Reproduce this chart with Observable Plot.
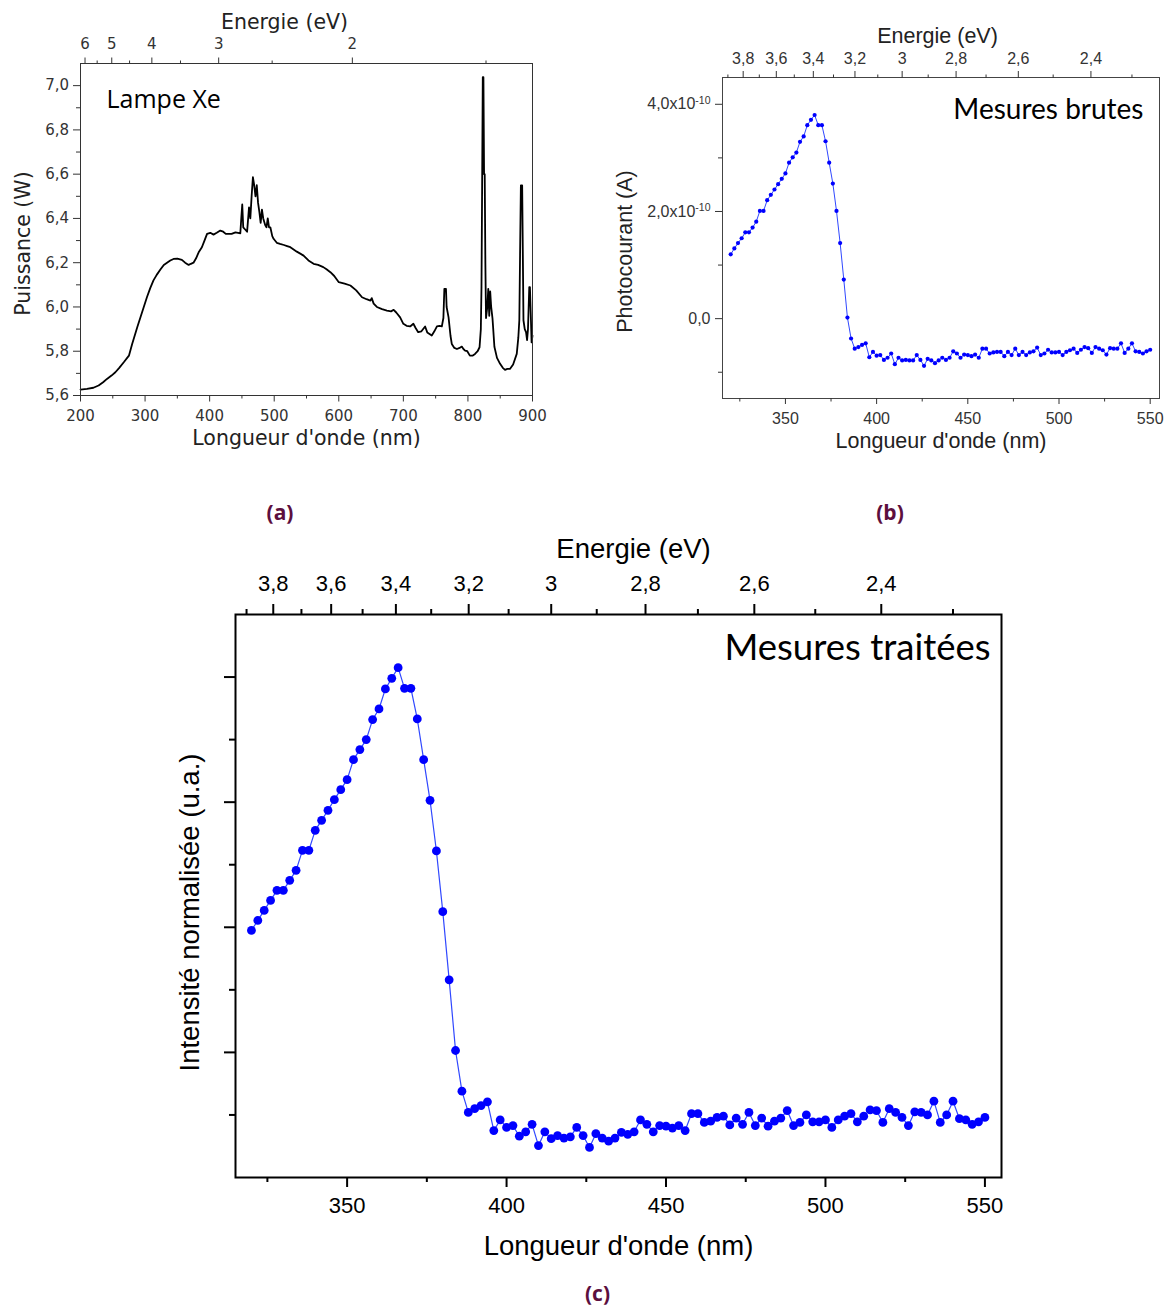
<!DOCTYPE html>
<html><head><meta charset="utf-8">
<script src="https://cdn.jsdelivr.net/npm/d3@7"></script>
<script src="https://cdn.jsdelivr.net/npm/@observablehq/plot@0.6"></script>
<style>
html,body{margin:0;padding:0;background:#fff;}
#fig{position:relative;width:1169px;height:1308px;overflow:hidden;background:#fff;}
#fig svg{position:absolute;overflow:visible;}
.tag{position:absolute;transform:translate(-50%,-50%);font-family:"Open Sans",sans-serif;font-weight:700;font-size:21px;color:#5c0f3e;line-height:1.1;white-space:nowrap;}
</style></head><body><div id="fig"></div>
<script>
const HC = 1242; // eV·nm conversion used for the top energy axes

// ---------- Panel (a): Xe lamp spectrum ----------
const lampWavelength = [200,210,220,228,235,241,248,254,260,267,275,280,288,293,298,303,308,313,318,324,329,334,339,344,350,357,362,367.5,371,375,379,383,388,392,396,401,406,411,416.5,421,425,429,434,440,444,447.5,449,450.5,452,455,458,461,463,465,467,469,471,473,475,477,479,481,483,486,488,490,492,494,497,499,504,509,515,520,525,535,545.5,553,561,568,576,581,587,593,600,609,618,627,636,643,649,651,654,659,667,674.5,681,685,689,695,700,705,710.5,715.5,719,723,728,733.7,737,744,748,752,756,759.6,762,763.5,766,767,770,773,775,779,783,787,790.5,793,795.6,799,803,807,811,815,818,820,821,822,823,824,825,826,827,828,830,831.5,833,834.5,836,838,839,841,845,849.8,854,857.5,861,865,870,875.6,878,879.6,881,882,884,885,886,888,890,891.6,893,895,896,897.5,898.6,900];
const lampPower = [5.627,5.63,5.635,5.645,5.66,5.675,5.69,5.705,5.725,5.75,5.78,5.833,5.91,5.955,6.0,6.045,6.085,6.12,6.145,6.17,6.19,6.20,6.21,6.217,6.218,6.213,6.20,6.19,6.195,6.20,6.22,6.247,6.27,6.30,6.33,6.335,6.327,6.335,6.345,6.34,6.33,6.33,6.33,6.337,6.335,6.333,6.40,6.463,6.36,6.35,6.34,6.45,6.40,6.50,6.586,6.55,6.50,6.55,6.47,6.43,6.38,6.44,6.40,6.37,6.36,6.40,6.36,6.36,6.32,6.308,6.29,6.285,6.28,6.275,6.27,6.25,6.232,6.21,6.195,6.19,6.18,6.17,6.157,6.14,6.112,6.105,6.097,6.075,6.044,6.035,6.029,6.04,6.015,6.0,5.99,5.984,5.98,5.987,5.975,5.953,5.924,5.915,5.912,5.924,5.905,5.886,5.89,5.912,5.885,5.871,5.89,5.912,5.915,5.912,5.95,6.082,6.082,6.0,5.953,5.87,5.833,5.815,5.81,5.815,5.821,5.81,5.803,5.80,5.78,5.78,5.788,5.80,5.818,5.9,6.09,6.55,7.038,7.038,6.6,6.6,6.2,5.95,6.0,6.082,5.96,6.07,6.0,5.95,5.908,5.82,5.77,5.743,5.725,5.716,5.72,5.72,5.74,5.788,5.86,5.94,6.3,6.549,6.549,6.25,5.94,5.90,5.886,5.85,5.90,6.09,6.09,5.95,5.84,5.87];
const aXMajor = [200,300,400,500,600,700,800,900];
const aXMinor = [250,350,450,550,650,750,850];
const aYMajor = [5.6,5.8,6.0,6.2,6.4,6.6,6.8,7.0];
const aYMinor = [5.7,5.9,6.1,6.3,6.5,6.7,6.9];
const aEMajor = [6,5,4,3,2];
const aEMinor = [5.5,4.5,3.5,2.5,1.5];

// ---------- Panels (b) and (c): photocurrent ----------
const wavelengths = [320,322,324,326,328,330,332,334,336,338,340,342,344,346,348,350,352,354,356,358,360,362,364,366,368,370,372,374,376,378,380,382,384,386,388,390,392,394,396,398,400,402,404,406,408,410,412,414,416,418,420,422,424,426,428,430,432,434,436,438,440,442,444,446,448,450,452,454,456,458,460,462,464,466,468,470,472,474,476,478,480,482,484,486,488,490,492,494,496,498,500,502,504,506,508,510,512,514,516,518,520,522,524,526,528,530,532,534,536,538,540,542,544,546,548,550];
// raw photocurrent, in units of 1e-10 A
const rawCurrent = [1.20,1.31,1.41,1.50,1.61,1.61,1.70,1.81,2.01,2.01,2.21,2.31,2.41,2.51,2.61,2.71,2.91,3.01,3.10,3.30,3.40,3.61,3.71,3.80,3.61,3.61,3.31,2.91,2.52,2.01,1.41,0.73,0.02,-0.37,-0.56,-0.53,-0.49,-0.46,-0.72,-0.62,-0.69,-0.68,-0.77,-0.73,-0.65,-0.85,-0.73,-0.78,-0.77,-0.78,-0.78,-0.68,-0.77,-0.88,-0.75,-0.78,-0.83,-0.78,-0.73,-0.77,-0.73,-0.61,-0.65,-0.73,-0.67,-0.68,-0.70,-0.67,-0.73,-0.56,-0.56,-0.65,-0.63,-0.62,-0.62,-0.70,-0.62,-0.68,-0.56,-0.68,-0.62,-0.68,-0.63,-0.61,-0.54,-0.68,-0.65,-0.58,-0.63,-0.63,-0.62,-0.68,-0.62,-0.59,-0.56,-0.64,-0.58,-0.53,-0.55,-0.64,-0.53,-0.56,-0.59,-0.67,-0.55,-0.56,-0.56,-0.46,-0.64,-0.56,-0.46,-0.61,-0.62,-0.65,-0.61,-0.58];
// treated / normalised intensity (arbitrary units)
const treatedIntensity = [3.95,4.11,4.27,4.43,4.59,4.59,4.75,4.91,5.23,5.23,5.55,5.71,5.87,6.04,6.20,6.36,6.68,6.84,7.00,7.32,7.49,7.81,7.98,8.15,7.82,7.82,7.33,6.68,6.03,5.22,4.25,3.16,2.03,1.38,1.04,1.10,1.15,1.21,0.75,0.92,0.80,0.83,0.66,0.73,0.85,0.51,0.73,0.62,0.67,0.63,0.65,0.80,0.67,0.48,0.70,0.63,0.58,0.63,0.72,0.69,0.73,0.92,0.85,0.73,0.83,0.82,0.79,0.83,0.75,1.02,1.02,0.88,0.90,0.96,0.98,0.84,0.95,0.85,1.04,0.83,0.95,0.82,0.90,0.95,1.07,0.83,0.88,1.00,0.89,0.89,0.92,0.80,0.92,0.98,1.02,0.89,0.98,1.08,1.07,0.88,1.10,1.04,0.96,0.83,1.05,1.04,1.00,1.22,0.88,1.00,1.22,0.94,0.92,0.85,0.89,0.96];
const bcXMajor = [350,400,450,500,550];
const bcXMinor = [325,375,425,475,525];
const bcEMajor = [3.8,3.6,3.4,3.2,3.0,2.8,2.6,2.4];
const bcEMinor = [3.9,3.7,3.5,3.3,3.1,2.9,2.7,2.5,2.3];
const bYMajor = [0, 2e-10, 4e-10];
const bYMinor = [-1e-10, 1e-10, 3e-10];
const cYMajor = [2,4,6,8];
const cYMinor = [1,3,5,7];

// ---------- helpers ----------
const comma = (v, d) => v.toFixed(d).replace(".", ",");
const eLabel = w => { const e = Math.round(HC / w * 10) / 10; return Number.isInteger(e) ? String(e) : comma(e, 1); };
const blank = () => "";
const toWl = es => es.map(e => HC / e);
const label = (t, o) => Plot.text([t], {text: d => d, lineAnchor: "middle", textAnchor: "middle", ...o});

const fig = document.getElementById("fig");
function place(svg, left, top) { svg.style.left = left + "px"; svg.style.top = top + "px"; fig.appendChild(svg); }

// ---------- (a) ----------
const lampData = lampWavelength.map((w, i) => ({w, p: lampPower[i]}));
const A = Plot.plot({
  width: 560, height: 460, marginLeft: 80, marginRight: 28, marginTop: 63, marginBottom: 65,
  style: {fontFamily: "DejaVu Sans, sans-serif", fontSize: "15px", color: "#333", background: "none"},
  x: {domain: [200, 900], label: null},
  y: {domain: [5.6, 7.1], label: null},
  marks: [
    Plot.line(lampData, {x: "w", y: "p", stroke: "#000", strokeWidth: 1.8}),
    Plot.frame({stroke: "#333", strokeWidth: 1}),
    Plot.axisX(aXMajor, {anchor: "bottom", tickSize: 6.5, tickPadding: 8.5, tickFormat: d => String(d), label: null}),
    Plot.axisX(aXMinor, {anchor: "bottom", tickSize: 3.5, tickFormat: blank, label: null}),
    Plot.axisY(aYMajor, {anchor: "left", tickSize: 7, tickPadding: 4.5, tickFormat: d => comma(d, 1), label: null}),
    Plot.axisY(aYMinor, {anchor: "left", tickSize: 4, tickFormat: blank, label: null}),
    Plot.axisX(toWl(aEMajor), {anchor: "top", tickSize: 6.5, tickPadding: 8, tickFormat: eLabel, label: null}),
    Plot.axisX(toWl(aEMinor), {anchor: "top", tickSize: 3.5, tickFormat: blank, label: null}),
    label("Energie (eV)", {frameAnchor: "top", dx: -22, dy: -41, fontSize: 20.5, fill: "#222"}),
    label("Longueur d'onde (nm)", {frameAnchor: "bottom", dy: 43, fontSize: 20.5, fill: "#222"}),
    label("Puissance (W)", {frameAnchor: "left", rotate: -90, dx: -57.5, dy: 14, fontSize: 20.5, fill: "#222"}),
    label("Lampe Xe", {frameAnchor: "top-left", textAnchor: "start", dx: 26, dy: 36, fontSize: 25, fontFamily: "Open Sans, sans-serif", fill: "#000"})
  ]
});
place(A, 0, 0);

// ---------- (b) ----------
const bData = wavelengths.map((w, i) => ({w, v: rawCurrent[i] * 1e-10}));
const B = Plot.plot({
  width: 569, height: 460, marginLeft: 122, marginRight: 10, marginTop: 77, marginBottom: 62,
  style: {fontFamily: "Liberation Sans, Arial, sans-serif", fontSize: "16px", color: "#333", background: "none"},
  x: {domain: [315.5, 555.1], label: null},
  y: {domain: [-1.49e-10, 4.5e-10], label: null},
  marks: [
    Plot.line(bData, {x: "w", y: "v", stroke: "#3048ff", strokeWidth: 1}),
    Plot.dot(bData, {x: "w", y: "v", r: 2.1, fill: "#0000ff"}),
    Plot.frame({stroke: "#444", strokeWidth: 1}),
    Plot.axisX(bcXMajor, {anchor: "bottom", tickSize: 6, tickPadding: 8, tickFormat: d => String(d), label: null}),
    Plot.axisX(bcXMinor, {anchor: "bottom", tickSize: 3.5, tickFormat: blank, label: null}),
    Plot.axisY(bYMajor, {anchor: "left", tickSize: 7, tickPadding: 5, tickFormat: d => d === 0 ? "0,0" : comma(d / 1e-10, 1) + "x10^-10", label: null}),
    Plot.axisY(bYMinor, {anchor: "left", tickSize: 4, tickFormat: blank, label: null}),
    Plot.axisX(toWl(bcEMajor), {anchor: "top", tickSize: 7, tickPadding: 6.5, tickFormat: eLabel, label: null}),
    Plot.axisX(toWl(bcEMinor), {anchor: "top", tickSize: 3.5, tickFormat: blank, label: null}),
    label("Energie (eV)", {frameAnchor: "top", dx: -3.5, dy: -41.5, fontSize: 21.5, fill: "#222"}),
    label("Longueur d'onde (nm)", {frameAnchor: "bottom", dy: 43, fontSize: 21.5, fill: "#222"}),
    label("Photocourant (A)", {frameAnchor: "left", rotate: -90, dx: -97.5, dy: 13.5, fontSize: 21.5, fill: "#222"}),
    label("Mesures brutes", {frameAnchor: "top-right", textAnchor: "end", dx: -16, dy: 33, fontSize: 28, fontFamily: "Lato, sans-serif", fill: "#000"})
  ]
});
// superscript exponent for the scientific tick labels
B.querySelectorAll("text, tspan").forEach(el => {
  if (el.childNodes.length === 1 && el.firstChild.nodeType === 3 && el.textContent.includes("^")) {
    const [base, exp] = el.textContent.split("^");
    el.textContent = base;
    const ts = document.createElementNS("http://www.w3.org/2000/svg", "tspan");
    ts.setAttribute("dy", "-0.55em");
    ts.setAttribute("font-size", "10.5px");
    ts.textContent = exp;
    el.appendChild(ts);
  }
});
place(B, 600, 0);

// ---------- (c) ----------
const cData = wavelengths.map((w, i) => ({w, v: treatedIntensity[i]}));
const C = Plot.plot({
  width: 880, height: 770, marginLeft: 85, marginRight: 29, marginTop: 94, marginBottom: 113,
  style: {fontFamily: "Liberation Sans, Arial, sans-serif", fontSize: "22px", color: "#000", background: "none"},
  x: {domain: [315, 555.2], label: null},
  y: {domain: [0, 9], label: null},
  marks: [
    Plot.line(cData, {x: "w", y: "v", stroke: "#3048ff", strokeWidth: 1.2}),
    Plot.dot(cData, {x: "w", y: "v", r: 4.4, fill: "#0000ff"}),
    Plot.frame({stroke: "#000", strokeWidth: 2}),
    Plot.axisX(bcXMajor, {anchor: "bottom", tickSize: 10, tickPadding: 10, strokeWidth: 2, tickFormat: d => String(d), label: null}),
    Plot.axisX(bcXMinor, {anchor: "bottom", tickSize: 5, strokeWidth: 2, tickFormat: blank, label: null}),
    Plot.axisY(cYMajor, {anchor: "left", tickSize: 11, strokeWidth: 2, tickFormat: blank, label: null}),
    Plot.axisY(cYMinor, {anchor: "left", tickSize: 6, strokeWidth: 2, tickFormat: blank, label: null}),
    Plot.axisX(toWl(bcEMajor), {anchor: "top", tickSize: 11, tickPadding: 13, strokeWidth: 2, tickFormat: eLabel, label: null}),
    Plot.axisX(toWl(bcEMinor), {anchor: "top", tickSize: 6, strokeWidth: 2, tickFormat: blank, label: null}),
    label("Energie (eV)", {frameAnchor: "top", dx: 15, dy: -65, fontSize: 27.5, fill: "#000"}),
    label("Longueur d'onde (nm)", {frameAnchor: "bottom", dy: 69, fontSize: 27.5, fill: "#000"}),
    label("Intensité normalisée (u.a.)", {frameAnchor: "left", rotate: -90, dx: -45, dy: 16.5, fontSize: 27.5, fill: "#000"}),
    label("Mesures traitées", {frameAnchor: "top-right", textAnchor: "end", dx: -11, dy: 34, fontSize: 36.5, fontFamily: "Lato, sans-serif", fill: "#000"})
  ]
});
place(C, 150, 520);

// ---------- panel tags ----------
[["(a)", 280, 513], ["(b)", 890, 513], ["(c)", 597.5, 1294]].forEach(([t, x, y]) => {
  const d = document.createElement("div");
  d.className = "tag"; d.textContent = t;
  d.style.left = x + "px"; d.style.top = y + "px";
  fig.appendChild(d);
});
</script></body></html>
